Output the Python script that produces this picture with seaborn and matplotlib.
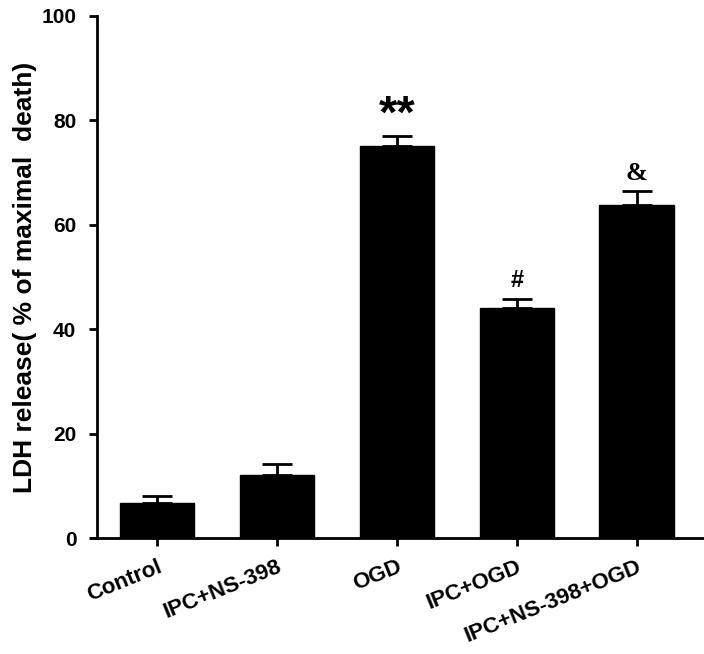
import matplotlib
matplotlib.use("Agg")
import matplotlib.pyplot as plt
import seaborn as sns
import numpy as np
import pandas as pd

# Values
groups = ["Control", "IPC+NS-398", "OGD", "IPC+OGD", "IPC+NS-398+OGD"]
ldh_mean = [6.8, 12.1, 75.1, 44.0, 63.7]
ldh_err = [1.2, 2.1, 1.9, 1.8, 2.8]
marks = ["", "", "**", "#", "&"]

sns.set_theme(style="ticks", rc={"text.color": "black", "axes.labelcolor": "black",
                                 "xtick.color": "black", "ytick.color": "black"})
plt.rcParams['font.family'] = ['Liberation Sans', 'DejaVu Sans']

df = pd.DataFrame({"group": groups, "ldh": ldh_mean})

fig = plt.figure(figsize=(7.04, 6.54), dpi=100)
ax = fig.add_axes([0.138, 0.177, 0.860, 0.799])

sns.barplot(data=df, x="group", y="ldh", color="black", width=0.62,
            saturation=1, errorbar=None, ax=ax)
for p in ax.patches:
    p.set_facecolor("black")
    p.set_edgecolor("black")

# upper error bars only
x = np.arange(len(groups))
ax.errorbar(x, ldh_mean, yerr=[np.zeros(len(groups)), ldh_err], fmt="none",
            ecolor="black", elinewidth=2, capsize=11, capthick=2, zorder=3)

# significance marks above bars
for i, m in enumerate(marks):
    if not m:
        continue
    top = ldh_mean[i] + ldh_err[i]
    if m == "**":
        ax.text(i, top + 1.6, m, ha="center", va="baseline", fontsize=34,
                fontweight="bold")
    elif m == "#":
        ax.text(i, top + 2.2, m, ha="center", va="baseline", fontsize=17,
                fontweight="bold")
    else:
        ax.text(i, top + 2.1, m, ha="center", va="baseline", fontsize=19,
                fontweight="bold", family=["Liberation Serif", "DejaVu Serif"])

ax.set_ylim(0, 100)
ax.set_xlim(-0.5, 4.55)
ax.set_yticks([0, 20, 40, 60, 80, 100])
ax.set_xlabel("")
ax.set_ylabel("LDH release( % of maximal  death)", fontsize=19, fontweight="bold")
ax.yaxis.set_label_coords(-0.10, 0.5)

ax.tick_params(axis="y", labelsize=15, pad=9)
plt.setp(ax.get_yticklabels(), fontweight="bold")
ax.set_xticks(x)
ax.set_xticklabels(groups, rotation=22, ha="right", rotation_mode="anchor",
                   fontsize=16, fontweight="bold")

ax.tick_params(axis="both", direction="out", length=6, width=2, color="black")
ax.tick_params(axis="x", pad=7)
for side in ["top", "right"]:
    ax.spines[side].set_visible(False)
for side in ["left", "bottom"]:
    ax.spines[side].set_linewidth(2)
    ax.spines[side].set_color("black")
ax.spines["bottom"].set_bounds(-0.55, 4.55)

fig.savefig("out.png", dpi=100)
